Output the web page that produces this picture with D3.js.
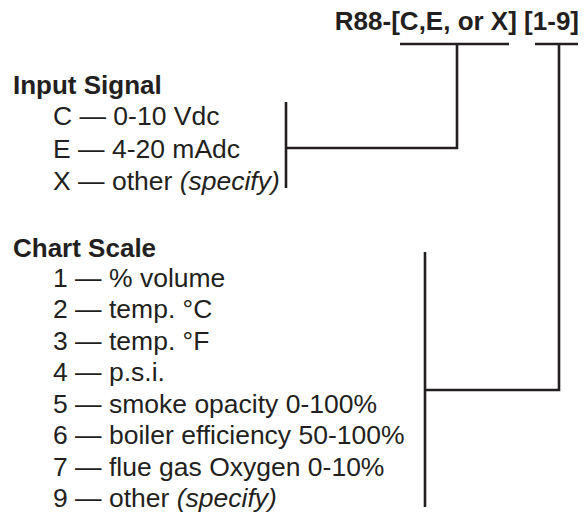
<!DOCTYPE html>
<html>
<head>
<meta charset="utf-8">
<script src="https://cdn.jsdelivr.net/npm/d3@7"></script>
<style>
  html, body { margin: 0; padding: 0; background: #fff; }
  svg { display: block; }
  text { font-family: "Liberation Sans", Arial, Helvetica, sans-serif; fill: #231f20; }
</style>
</head>
<body>
<svg id="chart" width="587" height="514"></svg>
<script>
// ---- data ----
const modelPrefix = "R88-";
const modelFields = ["[C,E, or X]", "[1-9]"];
const groupTitles = ["Input Signal", "Chart Scale"];
const inputCodes = ["C", "E", "X"];
const inputLabels = ["0-10 Vdc", "4-20 mAdc", "other (specify)"];
const scaleCodes = ["1", "2", "3", "4", "5", "6", "7", "9"];
const scaleLabels = ["% volume", "temp. °C", "temp. °F", "p.s.i.", "smoke opacity 0-100%",
                     "boiler efficiency 50-100%", "flue gas Oxygen 0-10%", "other (specify)"];

// ---- layout ----
const svg = d3.select("#chart");
const ink = "#231f20";
const lw = 2.6;
const headSize = 26;
const itemSize = 26.5;

// Title
const title = svg.append("text")
  .attr("x", 579).attr("y", 30)
  .attr("text-anchor", "end")
  .attr("font-size", headSize).attr("font-weight", "bold");
title.append("tspan").text(modelPrefix);
title.append("tspan").text(modelFields[0]);
title.append("tspan").text(" " + modelFields[1]);

// Group headings
const headingY = [94, 257];
groupTitles.forEach((t, i) => {
  svg.append("text").attr("x", 13).attr("y", headingY[i])
    .attr("font-size", headSize).attr("font-weight", "bold").text(t);
});

// Row scales
const yInput = d3.scaleLinear().domain([0, inputCodes.length - 1]).range([125, 190]);
const yScale = d3.scaleLinear().domain([0, scaleCodes.length - 1]).range([287, 507]);

function drawRows(codes, labels, yFn) {
  const g = svg.append("g");
  const rows = g.selectAll("text").data(codes).join("text")
    .attr("x", 53).attr("y", (d, i) => yFn(i))
    .attr("font-size", itemSize);
  rows.each(function(d, i) {
    const t = d3.select(this);
    const label = labels[i];
    const m = label.match(/^(.*?)(\(specify\))$/);
    t.append("tspan").text(d + " \u2014 " + (m ? m[1] : label));
    if (m) t.append("tspan").attr("font-style", "italic").text(m[2]);
  });
}
drawRows(inputCodes, inputLabels, yInput);
drawRows(scaleCodes, scaleLabels, yScale);

// Connector lines
const line = d3.line();
const paths = [
  // underline field 1 and its drop
  [[400, 44], [509, 44]],
  [[457, 44], [457, 148], [286, 148]],
  // input bracket
  [[286, 102], [286, 188]],
  // underline field 2 and its drop
  [[535, 44], [578, 44]],
  [[559, 44], [559, 390], [425, 390]],
  // chart scale bracket
  [[425, 252], [425, 507]]
];
svg.append("g").selectAll("path").data(paths).join("path")
  .attr("d", d => line(d))
  .attr("fill", "none")
  .attr("stroke", ink)
  .attr("stroke-width", lw)
  .attr("stroke-linecap", "butt")
  .attr("stroke-linejoin", "miter");
</script>
</body>
</html>
